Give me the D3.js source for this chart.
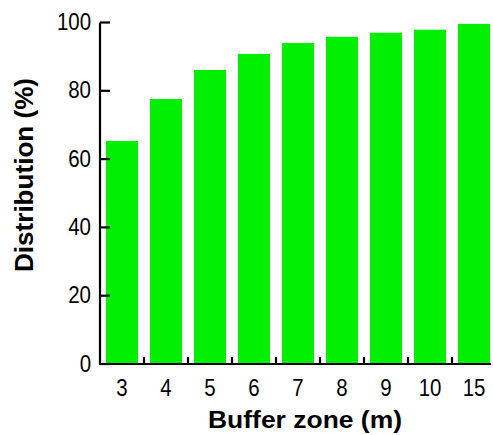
<!DOCTYPE html>
<html>
<head>
<meta charset="utf-8">
<script src="https://cdn.jsdelivr.net/npm/d3@7"></script>
<style>
  body { margin: 0; background: #fff; }
  .title { font-family: "Liberation Sans", Arial, sans-serif; font-weight: bold; fill: #000; }
</style>
</head>
<body>
<script>
var zones = ["3", "4", "5", "6", "7", "8", "9", "10", "15"];
var distribution = [65.3, 77.6, 86.1, 90.8, 94.0, 95.8, 97.0, 97.9, 99.6];
var yTicks = [0, 20, 40, 60, 80, 100];

var width = 493, height = 435;
var squeeze = 0.87;   // tick digits are narrow in the original

var svg = d3.select("body")
            .append("svg")
            .attr("width", width)
            .attr("height", height);

var x = d3.scaleBand()
        .domain(zones)
        .range([100, 496])
        .paddingInner(0.273)
        .paddingOuter(0.1365);

var y = d3.scaleLinear()
        .domain([0, 100])
        .range([364, 22.5]);

// bars
svg.selectAll(".bar")
    .data(zones)
    .join("rect")
    .attr("class", "bar")
    .attr("x", d => x(d))
    .attr("y", (d, i) => y(distribution[i]))
    .attr("width", x.bandwidth())
    .attr("height", (d, i) => y(0) - y(distribution[i]))
    .attr("fill", "#00ef00");

// y axis, ticks pointing inward
var yAxis = svg.append("g")
    .attr("transform", "translate(100,0)")
    .call(d3.axisLeft(y).tickValues(yTicks).tickSize(-10).tickSizeOuter(0).offset(0));
yAxis.select(".domain").attr("stroke-width", 2.2).attr("stroke", "#000");
yAxis.selectAll(".tick line").attr("stroke-width", 2.2).attr("stroke", "#000");
yAxis.selectAll(".tick text")
    .attr("x", null)
    .attr("transform", "translate(-9,0) scale(" + squeeze + ",1)")
    .attr("text-anchor", "end")
    .style("font-family", "'Liberation Sans', Arial, sans-serif")
    .style("font-size", "23.5px")
    .attr("fill", "#000");

// x axis: labels at band centres, no ticks there
var xAxis = svg.append("g")
    .attr("transform", "translate(0," + y(0) + ")")
    .call(d3.axisBottom(x).tickSize(0).offset(0));
xAxis.select(".domain").remove();
xAxis.selectAll(".tick text")
    .attr("y", null)
    .attr("dy", null)
    .attr("transform", "translate(0,32) scale(" + squeeze + ",1)")
    .style("font-family", "'Liberation Sans', Arial, sans-serif")
    .style("font-size", "23.5px")
    .attr("fill", "#000");

svg.append("line")
    .attr("x1", 99)
    .attr("x2", 491)
    .attr("y1", y(0))
    .attr("y2", y(0))
    .attr("stroke", "#000")
    .attr("stroke-width", 2.2);

// small inward ticks between the bars
var step = x.step();
svg.selectAll(".sep")
    .data(zones.slice(1))
    .join("line")
    .attr("class", "sep")
    .attr("x1", d => x(d) - step * x.paddingInner() / 2)
    .attr("x2", d => x(d) - step * x.paddingInner() / 2)
    .attr("y1", y(0))
    .attr("y2", y(0) - 7)
    .attr("stroke", "#000")
    .attr("stroke-width", 2.2);

svg.append("text")
    .attr("class", "title")
    .attr("x", 305)
    .attr("y", 428)
    .attr("text-anchor", "middle")
    .style("font-size", "24px")
    .attr("textLength", 194)
    .attr("lengthAdjust", "spacingAndGlyphs")
    .text("Buffer zone (m)");

svg.append("text")
    .attr("class", "title")
    .attr("transform", "rotate(-90)")
    .attr("x", -175)
    .attr("y", 33)
    .attr("text-anchor", "middle")
    .style("font-size", "26px")
    .attr("textLength", 194)
    .attr("lengthAdjust", "spacingAndGlyphs")
    .text("Distribution (%)");
</script>
</body>
</html>
